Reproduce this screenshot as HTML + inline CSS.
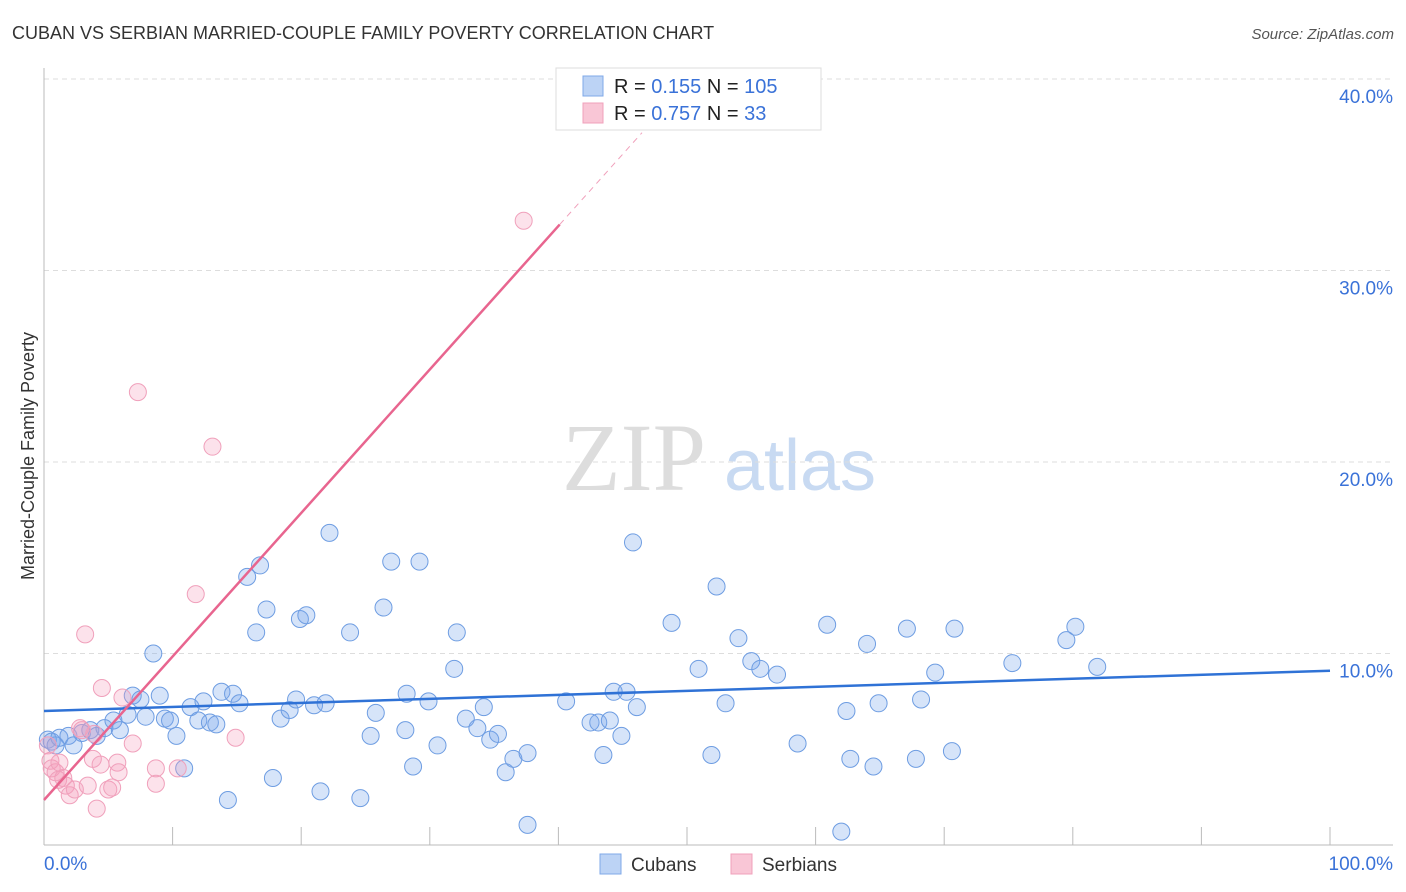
<!DOCTYPE html>
<html><head><meta charset="utf-8"><style>
body{margin:0;background:#fff;font-family:"Liberation Sans",sans-serif;}
</style></head><body>
<svg id="chart" width="1406" height="892" style="display:block">
<text x="12" y="39" font-size="18" fill="#333">CUBAN VS SERBIAN MARRIED-COUPLE FAMILY POVERTY CORRELATION CHART</text>
<text x="1394" y="39" font-size="15" fill="#555" font-style="italic" text-anchor="end">Source: ZipAtlas.com</text>
<text transform="translate(34,456) rotate(-90)" font-size="18" fill="#333" text-anchor="middle">Married-Couple Family Poverty</text>
<g><text x="634" y="490" font-size="96" font-family="Liberation Serif" fill="#ddd" text-anchor="middle">ZIP</text><text x="800" y="490" font-size="72" fill="#c8daf2" text-anchor="middle">atlas</text></g>
<g id="grid"></g><g id="axes"></g><g id="pts"></g><g id="lines"></g>
<g>
<rect x="556" y="68" width="265" height="62" fill="#fff" stroke="#ddd"/>
<rect x="583" y="76" width="20" height="20" fill="#bcd3f5" stroke="#7fa8e8"/>
<rect x="583" y="103" width="20" height="20" fill="#f9c6d6" stroke="#f0a0bb"/>
<text x="614" y="93" font-size="20" fill="#222">R = <tspan fill="#3a72d8"> 0.155</tspan>   N = <tspan fill="#3a72d8">105</tspan></text>
<text x="614" y="120" font-size="20" fill="#222">R = <tspan fill="#3a72d8">0.757</tspan>   N = <tspan fill="#3a72d8">  33</tspan></text>
</g>
<g>
<rect x="600" y="854" width="21" height="20" fill="#bcd3f5" stroke="#7fa8e8"/>
<text x="631" y="871" font-size="19" fill="#333">Cubans</text>
<rect x="731" y="854" width="21" height="20" fill="#f9c6d6" stroke="#f0a0bb"/>
<text x="762" y="871" font-size="19" fill="#333">Serbians</text>
</g>
</svg>
<script>
const yTicks=[10,20,30,40];
const yTickLabels=["10.0%","20.0%","30.0%","40.0%"];
const xTickVals=[0,10,20,30,40,50,60,70,80,90,100];
const cubanX=[0.3,0.6,0.9,1.2,1.9,2.3,2.95,3.6,4.1,4.7,5.4,5.9,6.5,6.9,7.5,7.9,8.5,9.0,9.4,9.8,10.3,10.9,11.4,12.0,12.4,12.9,13.4,13.8,14.3,14.7,15.2,15.8,16.5,16.8,17.3,17.8,18.4,19.1,19.6,19.9,20.4,21.0,21.5,21.9,22.2,23.8,24.6,25.4,25.8,26.4,27.0,28.1,28.2,28.7,29.2,29.9,30.6,31.9,32.1,32.8,33.7,34.2,34.7,35.3,35.9,36.5,37.6,37.6,40.6,42.5,43.1,43.5,44.0,44.3,44.9,45.3,45.8,46.1,48.8,50.9,51.9,52.3,53.0,54.0,55.0,55.7,57.0,58.6,60.9,62.0,62.4,62.7,64.0,64.5,64.9,67.1,67.8,68.2,69.3,70.6,70.8,75.3,79.5,80.2,81.9];
const cubanY=[5.5,5.4,5.2,5.6,5.7,5.2,5.85,6.0,5.7,6.1,6.5,6.0,6.8,7.8,7.6,6.7,10.0,7.8,6.6,6.5,5.7,4.0,7.2,6.5,7.5,6.4,6.3,8.0,2.35,7.9,7.4,14.0,11.1,14.6,12.3,3.5,6.6,7.05,7.6,11.8,12.0,7.3,2.8,7.4,16.3,11.1,2.45,5.7,6.9,12.4,14.8,6.0,7.9,4.1,14.8,7.5,5.2,9.2,11.1,6.6,6.1,7.2,5.5,5.8,3.8,4.5,1.05,4.8,7.5,6.4,6.4,4.7,6.5,8.0,5.7,8.0,15.8,7.2,11.6,9.2,4.7,13.5,7.4,10.8,9.6,9.2,8.9,5.3,11.5,0.7,7.0,4.5,10.5,4.1,7.4,11.3,4.5,7.6,9.0,4.9,11.3,9.5,10.7,11.4,9.3];
const serbX=[0.3,0.5,0.6,0.9,1.1,1.5,1.7,2.0,2.4,3.2,2.95,3.4,3.8,4.1,4.4,4.5,5.0,5.3,5.7,5.8,6.1,6.9,7.3,8.7,8.7,10.4,11.8,13.1,14.9,37.3,3.9,2.8,1.2];
const serbY=[5.2,4.4,4.0,3.8,3.4,3.5,3.1,2.6,2.9,11.0,6.0,3.1,4.5,1.9,4.2,8.2,2.9,3.0,4.3,3.8,7.7,5.3,23.65,4.0,3.2,4.0,13.1,20.8,5.6,32.6,5.8,6.1,4.3];
const cubanFit=[7.0,9.1];
const serbFit=[2.35,32.4];
const NS="http://www.w3.org/2000/svg";
const X0=44,X1=1330,Y0=845,YS=19.15;
const sx=v=>X0+(X1-X0)*v/100, sy=v=>Y0-v*YS;
function mk(t,a,p){const e=document.createElementNS(NS,t);for(const k in a)e.setAttribute(k,a[k]);p.appendChild(e);return e;}
const grid=document.getElementById('grid'),axes=document.getElementById('axes'),pts=document.getElementById('pts'),lines=document.getElementById('lines');
yTicks.forEach((v,i)=>{
 const l=mk('line',{x1:X0,x2:1393,y1:sy(v),y2:sy(v),stroke:'#ddd','stroke-dasharray':'5,4'},grid);
 
 
 const t=mk('text',{x:1393,y:sy(v)+24,'font-size':19,fill:'#3a72d8','text-anchor':'end'},axes);
 t.textContent=yTickLabels[i];
 
 
});
const ya=mk('line',{x1:X0,x2:X0,y1:68,y2:Y0,stroke:'#bbb'},axes);


const xa=mk('line',{x1:X0,x2:1393,y1:Y0,y2:Y0,stroke:'#bbb'},axes);


xTickVals.forEach(v=>{
 const t=mk('line',{x1:sx(v),x2:sx(v),y1:Y0,y2:Y0-18,stroke:'#bbb'},axes);
 
 
});
[[0,"0.0%",'start',X0],[100,"100.0%",'end',1393]].forEach(a=>{
 const t=mk('text',{x:a[3],y:870,'font-size':19,fill:'#3a72d8','text-anchor':a[2]},axes);
 t.textContent=a[1];
 
 
});
cubanX.forEach((v,i)=>{
 const c=mk('circle',{cx:sx(v),cy:sy(cubanY[i]),r:8.5,fill:'rgba(120,165,235,0.3)',stroke:'#6e9de2','stroke-width':1},pts);
 
 
});
serbX.forEach((v,i)=>{
 const c=mk('circle',{cx:sx(v),cy:sy(serbY[i]),r:8.5,fill:'rgba(245,160,190,0.3)',stroke:'#f0a0bb','stroke-width':1},pts);
 
 
});
const bl=mk('line',{x1:sx(0),y1:sy(cubanFit[0]),x2:sx(100),y2:sy(cubanFit[1]),stroke:'#2f72d6','stroke-width':2.5},lines);


const slope=(serbFit[1]-serbFit[0])/40.1;
const pl=mk('line',{x1:sx(0),y1:sy(serbFit[0]),x2:sx(40.1),y2:sy(serbFit[1]),stroke:'#e8658f','stroke-width':2.5},lines);


const pd=mk('line',{x1:sx(40.1),y1:sy(serbFit[1]),x2:sx(46.5),y2:sy(serbFit[0]+slope*46.5),stroke:'#f0a0bb','stroke-width':1,'stroke-dasharray':'6,5'},lines);


</script>
</body></html>
